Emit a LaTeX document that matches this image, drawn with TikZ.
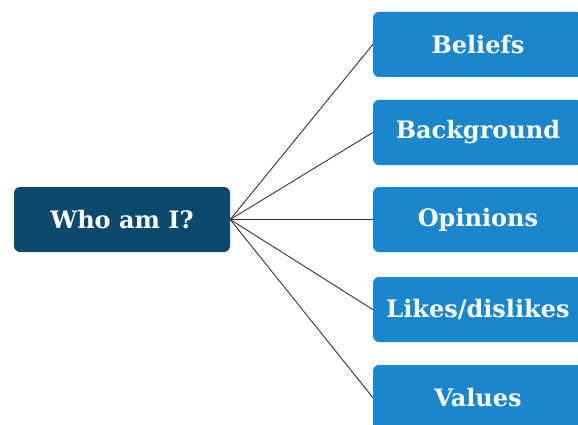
\documentclass[tikz,border=0pt]{standalone}
\usepackage{fontspec}
\setmainfont{DejaVu Serif}
\definecolor{darkbox}{HTML}{0B4A6C}
\definecolor{lightbox}{HTML}{1A86CC}
\definecolor{linegray}{HTML}{333333}
\begin{document}
\begin{tikzpicture}[x=1pt,y=-1pt,
  box/.style={rounded corners=6pt, text=white, inner sep=0pt, minimum height=65pt,
    font=\bfseries\fontsize{24}{28}\selectfont},
  center/.style={box, fill=darkbox, minimum width=216pt},
  leaf/.style={box, fill=lightbox, minimum width=210pt},
  link/.style={draw=linegray, line width=0.9pt}]
\fill[white] (0,0) rectangle (578,425);
\useasboundingbox (0,0) rectangle (578,425);
\begin{scope}
\clip (0,0) rectangle (578,425);
\node[center] (who) at (122,219.5) {Who am I?};
\node[leaf] (b1) at (478,44.5) {Beliefs};
\node[leaf] (b2) at (478,132.5) {Background};
\node[leaf] (b3) at (478,219.5) {Opinions};
\node[leaf] (b4) at (478,309.5) {Likes/dislikes};
\node[leaf] (b5) at (478,397.5) {Values};
\foreach \n in {b1,b2,b3,b4,b5} \draw[link] (who.east) -- (\n.west);
\end{scope}
\end{tikzpicture}
\end{document}
